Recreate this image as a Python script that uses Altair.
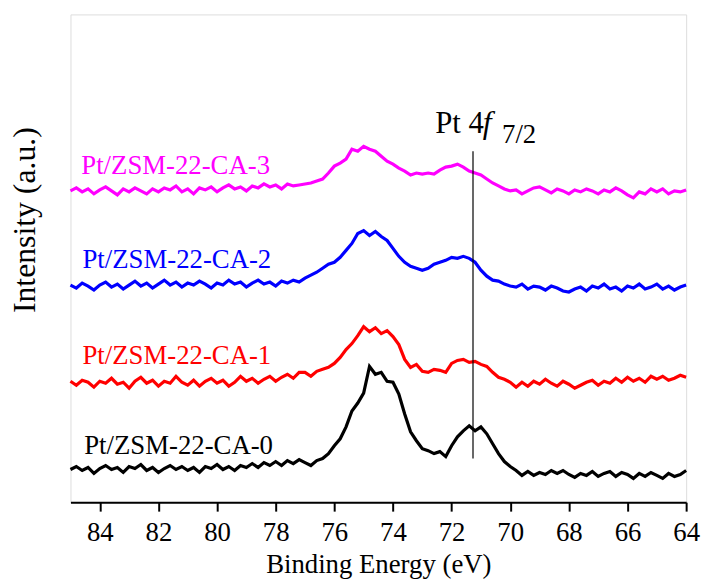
import altair as alt
import pandas as pd

# Binding energy grid (eV), 85.0 -> 64.0 in 0.2 eV steps (106 points)
energy = [round(85.0 - 0.2 * i, 1) for i in range(106)]

ca0 = [33, 36, 32, 35, 29, 34, 37, 33, 35, 30, 36, 34, 38, 32, 35, 30, 34, 37, 33, 36,
       32, 35, 30, 36, 34, 38, 33, 36, 32, 37, 35, 39, 35, 40, 37, 41, 37, 42, 39, 43,
       40, 37, 42, 44, 49, 57, 64, 76, 92, 100, 110, 137, 129, 131, 122, 121, 109, 89, 71, 62,
       54, 52, 49, 51, 46, 57, 66, 72, 77, 72, 76, 69, 59, 49, 41, 36, 32, 27, 31, 27,
       30, 28, 32, 29, 32, 28, 25, 29, 27, 31, 26, 29, 31, 26, 30, 28, 24, 29, 26, 30,
       27, 24, 29, 26, 28, 32]

ca1 = [122, 118, 123, 121, 116, 122, 120, 125, 119, 121, 115, 122, 126, 120, 123, 117, 122, 120, 127, 121,
       118, 123, 117, 122, 125, 120, 123, 117, 121, 127, 122, 125, 120, 124, 127, 122, 126, 129, 125, 131,
       131, 127, 132, 134, 136, 140, 146, 154, 160, 168, 177, 172, 176, 170, 173, 167, 159, 144, 136, 139,
       132, 131, 134, 133, 131, 140, 143, 144, 141, 142, 139, 137, 131, 126, 124, 121, 116, 121, 117, 122,
       119, 124, 120, 117, 122, 119, 115, 118, 121, 123, 118, 122, 120, 125, 121, 126, 122, 125, 121, 127,
       124, 127, 123, 125, 128, 126]

ca2 = [219, 216, 221, 218, 214, 219, 222, 217, 220, 215, 219, 223, 218, 221, 216, 220, 224, 219, 222, 217,
       221, 219, 223, 220, 216, 221, 219, 224, 220, 222, 217, 221, 224, 220, 222, 218, 223, 221, 224, 222,
       226, 229, 232, 236, 240, 242, 247, 254, 261, 271, 274, 269, 273, 268, 264, 256, 248, 242, 238, 236,
       234, 236, 240, 242, 244, 247, 246, 248, 246, 242, 234, 228, 224, 223, 220, 218, 217, 220, 215, 218,
       217, 214, 218, 216, 213, 212, 215, 217, 213, 218, 216, 220, 215, 217, 213, 218, 216, 220, 215, 217,
       220, 215, 218, 214, 217, 219]

ca3 = [314, 317, 313, 316, 311, 315, 318, 314, 310, 316, 313, 317, 314, 311, 316, 313, 317, 315, 319, 313,
       316, 311, 317, 315, 318, 313, 317, 320, 316, 318, 314, 319, 317, 321, 318, 320, 316, 321, 319, 320,
       321, 322, 324, 326, 332, 339, 342, 346, 356, 354, 359, 356, 354, 349, 344, 341, 337, 334, 330, 332,
       331, 332, 331, 335, 338, 339, 341, 338, 334, 332, 330, 326, 322, 319, 316, 314, 315, 311, 314, 317,
       318, 315, 312, 316, 314, 311, 315, 313, 316, 314, 311, 315, 313, 317, 314, 310, 307, 313, 311, 316,
       313, 316, 311, 314, 313, 315]

samples = ["Pt/ZSM-22-CA-0", "Pt/ZSM-22-CA-1", "Pt/ZSM-22-CA-2", "Pt/ZSM-22-CA-3"]
colors = ["#000000", "#ff0000", "#0000ff", "#ff00ff"]
series = [ca0, ca1, ca2, ca3]

# label anchor positions (eV, intensity)
label_x = [84.53, 84.59, 84.59, 84.63]
label_y = [49, 139, 236, 331]

peak_line_ev = 71.27
peak_line_y = [44, 354]

rows = []
for name, vals in zip(samples, series):
    for e, v in zip(energy, vals):
        rows.append({"eV": e, "I": v, "sample": name})
df = pd.DataFrame(rows)

lab_df = pd.DataFrame({"eV": label_x, "I": label_y, "sample": samples})

FONT = "Liberation Serif, Times New Roman, serif"
xscale = alt.Scale(domain=[64, 85], reverse=True, nice=False, zero=False)
yscale = alt.Scale(domain=[0, 492], nice=False, zero=False)
cscale = alt.Scale(domain=samples, range=colors)

xaxis = alt.Axis(
    title="Binding Energy (eV)",
    values=list(range(64, 86)),
    labelExpr="datum.value % 2 === 0 ? datum.label : ''",
    tickSize={"condition": {"test": "datum.value % 2 === 0", "value": 9}, "value": 5},
    tickWidth=2, tickColor="black",
    domain=True, domainColor="black", domainWidth=2,
    grid=False,
    labelFont=FONT, labelFontSize=27, labelColor="black",
    labelBaseline="alphabetic", labelPadding=30, labelFlush=False,
    titleFont=FONT, titleFontSize=27, titleFontWeight="normal", titleColor="black",
    titleBaseline="alphabetic", titleY=71,
)
yaxis = alt.Axis(
    title="Intensity (a.u.)", labels=False, ticks=False, domain=False, grid=False,
    titleFont=FONT, titleFontSize=32, titleFontWeight="normal", titleColor="black",
    titleAngle=-90, titleAlign="center", titleBaseline="middle",
    titleX=-46, titleY=207,
)

lines = alt.Chart(df).mark_line(strokeWidth=3.2).encode(
    x=alt.X("eV:Q", scale=xscale, axis=xaxis),
    y=alt.Y("I:Q", scale=yscale, axis=yaxis),
    color=alt.Color("sample:N", scale=cscale, legend=None),
    detail="sample:N",
    order="eV:Q",
)

labels = alt.Chart(lab_df).mark_text(
    align="left", baseline="alphabetic", font=FONT, fontSize=27
).encode(
    x=alt.X("eV:Q", scale=xscale),
    y=alt.Y("I:Q", scale=yscale),
    text="sample:N",
    color=alt.Color("sample:N", scale=cscale, legend=None),
)

rule = alt.Chart(pd.DataFrame({"eV": [peak_line_ev], "y1": [peak_line_y[0]], "y2": [peak_line_y[1]]})).mark_rule(
    color="black", strokeWidth=1.2
).encode(
    x=alt.X("eV:Q", scale=xscale),
    y=alt.Y("y1:Q", scale=yscale),
    y2="y2:Q",
)

ann_df = pd.DataFrame({
    "eV": [72.56, 70.94, 70.28],
    "I": [372, 372, 362],
    "t": ["Pt 4", "f", "7/2"],
})
ann_main = alt.Chart(ann_df.iloc[[0]]).mark_text(
    align="left", baseline="alphabetic", font=FONT, fontSize=31, color="black"
).encode(x=alt.X("eV:Q", scale=xscale), y=alt.Y("I:Q", scale=yscale), text="t:N")
ann_f = alt.Chart(ann_df.iloc[[1]]).mark_text(
    align="left", baseline="alphabetic", font=FONT, fontSize=32, fontStyle="italic", color="black"
).encode(x=alt.X("eV:Q", scale=xscale), y=alt.Y("I:Q", scale=yscale), text="t:N")
ann_sub = alt.Chart(ann_df.iloc[[2]]).mark_text(
    align="left", baseline="alphabetic", font=FONT, fontSize=27, color="black"
).encode(x=alt.X("eV:Q", scale=xscale), y=alt.Y("I:Q", scale=yscale), text="t:N")

chart = alt.layer(lines, labels, rule, ann_main, ann_f, ann_sub).properties(
    width=621, height=492,
    autosize=alt.AutoSizeParams(type="none"),
    padding={"left": 63, "top": 4, "right": 17, "bottom": 77},
).configure_view(stroke="black", strokeWidth=2).configure(background="white")

chart.save("out.html", embed_options={"renderer": "svg", "actions": False})
